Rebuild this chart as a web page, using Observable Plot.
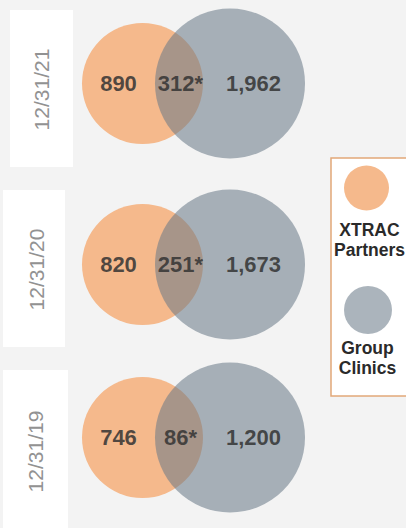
<!DOCTYPE html>
<html>
<head>
<meta charset="utf-8">
<script src="https://cdn.jsdelivr.net/npm/d3@7"></script>
<script src="https://cdn.jsdelivr.net/npm/@observablehq/plot@0.6"></script>
<style>
  html, body { margin: 0; padding: 0; background: #f3f3f3; }
  #chart svg { display: block; }
</style>
</head>
<body>
<div id="chart"></div>
<script>
// ---- data ----
const dates = ["12/31/21", "12/31/20", "12/31/19"];
const partners = [890, 820, 746];
const overlap = [312, 251, 86];
const clinics = [1962, 1673, 1200];
const seriesNames = ["XTRAC Partners", "Group Clinics"];

// ---- layout (pixels) ----
const W = 406, H = 528;
const rowCY = [83, 264, 437];
const panelBox = [[10, 73, 10, 167], [3, 65, 190, 347], [3, 68, 370, 540]];
const dateCX = [42, 37, 36];
const dateCY = [89, 269, 451];
const orangeCX = 142, orangeR = 60.5;
const grayCX = 229.5, grayR = 75;
const labelX = {partners: 118, overlap: 180, clinics: 253};
const legendBox = {x1: 331, x2: 412, y1: 158, y2: 396};
const legendDotX = [366, 367.5], legendDotY = [187.5, 309.5], legendDotR = [22.5, 24];
const legendTextX = [369, 367], legendTextY = [239, 357];

const ORANGE = "#f5b98c";
const GRAY = "#6a7988";
const GRAY_OP = 0.56;
const FONT = "'Liberation Sans', Arial, sans-serif";
const fmt = d3.format(",");

const rows = dates.map((d, i) => ({
  date: d, partners: partners[i], overlap: overlap[i], clinics: clinics[i],
  cy: rowCY[i], dx: dateCX[i], dy: dateCY[i],
  px1: panelBox[i][0], px2: panelBox[i][1], py1: panelBox[i][2], py2: panelBox[i][3]
}));
const legend = seriesNames.map((n, i) => ({
  name: n, label: n.replace(" ", "\n"),
  x: legendDotX[i], y: legendDotY[i], r: legendDotR[i], tx: legendTextX[i], ty: legendTextY[i],
  fill: i === 0 ? ORANGE : GRAY, op: i === 0 ? 1 : GRAY_OP
}));

const valueText = {fontFamily: FONT, fontSize: 22, fontWeight: "bold", fill: "#333", fillOpacity: 0.85};

const chart = Plot.plot({
  width: W, height: H, margin: 0,
  x: {domain: [0, W], range: [0, W], axis: null},
  y: {domain: [0, H], range: [0, H], axis: null},
  r: {type: "identity"},
  style: {background: "#f3f3f3", fontFamily: FONT},
  marks: [
    // white date panels
    Plot.rect(rows, {x1: "px1", x2: "px2", y1: "py1", y2: "py2", fill: "white"}),
    Plot.text(rows, {x: "dx", y: "dy", text: "date", rotate: -90, fontFamily: FONT, fontSize: 21, fill: "#929292"}),
    // venn circles
    Plot.dot(rows, {x: () => orangeCX, y: "cy", r: orangeR, fill: ORANGE, stroke: null}),
    Plot.dot(rows, {x: () => grayCX, y: "cy", r: grayR, fill: GRAY, fillOpacity: GRAY_OP, stroke: null}),
    // values
    Plot.text(rows, {x: () => labelX.partners, y: "cy", text: d => fmt(d.partners), ...valueText}),
    Plot.text(rows, {x: () => labelX.overlap, y: "cy", text: d => fmt(d.overlap) + "*", ...valueText}),
    Plot.text(rows, {x: () => labelX.clinics, y: "cy", text: d => fmt(d.clinics), ...valueText}),
    // legend
    Plot.rect([legendBox], {x1: "x1", x2: "x2", y1: "y1", y2: "y2", fill: "white", stroke: "#e2a878", strokeWidth: 1.5}),
    Plot.dot(legend, {x: "x", y: "y", r: "r", fill: "fill", fillOpacity: "op", stroke: null}),
    Plot.text(legend, {x: "tx", y: "ty", text: "label", fontFamily: FONT, fontSize: 17.5, fontWeight: "bold", fill: "#2a2a2a", lineHeight: 1.15})
  ]
});
document.getElementById("chart").appendChild(chart);
</script>
</body>
</html>
